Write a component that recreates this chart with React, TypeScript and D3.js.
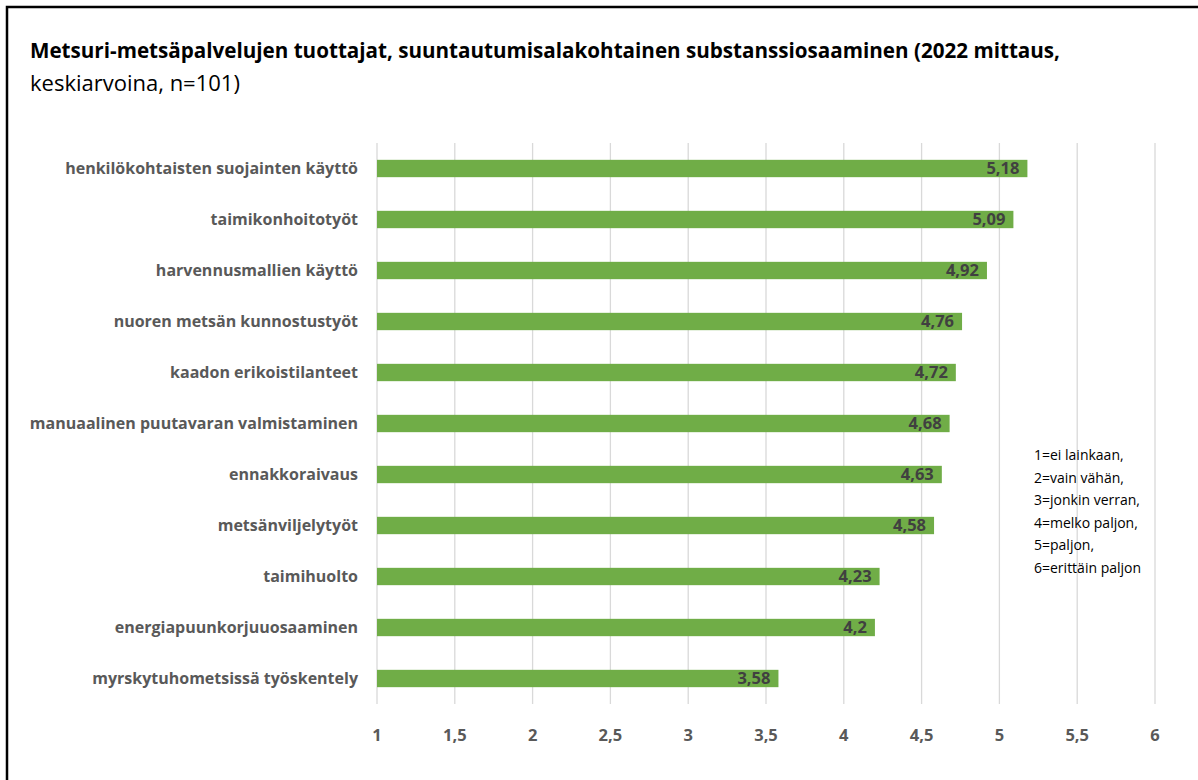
import React from "react";
import * as d3 from "d3";

const categories = [
  "henkilökohtaisten suojainten käyttö",
  "taimikonhoitotyöt",
  "harvennusmallien käyttö",
  "nuoren metsän kunnostustyöt",
  "kaadon erikoistilanteet",
  "manuaalinen puutavaran valmistaminen",
  "ennakkoraivaus",
  "metsänviljelytyöt",
  "taimihuolto",
  "energiapuunkorjuuosaaminen",
  "myrskytuhometsissä työskentely",
];
const values = [5.18, 5.09, 4.92, 4.76, 4.72, 4.68, 4.63, 4.58, 4.23, 4.2, 3.58];
const ticks = [1, 1.5, 2, 2.5, 3, 3.5, 4, 4.5, 5, 5.5, 6];
const legendLines = [
  "1=ei lainkaan,",
  "2=vain vähän,",
  "3=jonkin verran,",
  "4=melko paljon,",
  "5=paljon,",
  "6=erittäin paljon",
];
const titleLine1 =
  "Metsuri-metsäpalvelujen tuottajat, suuntautumisalakohtainen substanssiosaaminen (2022 mittaus,";
const titleLine2 = "keskiarvoina, n=101)";

const FONT = "'Open Sans', sans-serif";
const fmt = (v: number) => String(v).replace(".", ",");

export default function App() {
  const W = 1198;
  const H = 780;
  const x = d3.scaleLinear().domain([1, 6]).range([377, 1155]);
  const y = d3
    .scaleBand<string>()
    .domain(categories)
    .range([143, 704])
    .paddingInner(0.66)
    .paddingOuter(0.33);
  const bw = y.bandwidth();

  return (
    <svg
      width={W}
      height={H}
      style={{ position: "absolute", left: 0, top: 0, background: "#fff" }}
      fontFamily={FONT}
    >
      <rect x={0} y={0} width={W} height={H} fill="#fff" />
      {/* border */}
      <path d={`M7,${H + 5} V7 H${W + 5}`} fill="none" stroke="#000" strokeWidth={2.5} />
      {/* title */}
      <text
        x={30}
        y={58}
        fontSize={21.5}
        fontWeight="bold"
        fill="#000"
        textLength={1030}
        lengthAdjust="spacingAndGlyphs"
      >
        {titleLine1}
      </text>
      <text x={30} y={91} fontSize={22} fill="#000">
        {titleLine2}
      </text>
      {/* gridlines */}
      {ticks.map((t) => (
        <line
          key={"g" + t}
          x1={x(t)}
          x2={x(t)}
          y1={143}
          y2={704}
          stroke="#d9d9d9"
          strokeWidth={1.3}
        />
      ))}
      {/* bars */}
      {categories.map((c, i) => (
        <rect
          key={"b" + c}
          x={x(1)}
          y={y(c)!}
          width={x(values[i]) - x(1)}
          height={bw}
          fill="#70ad47"
        />
      ))}
      {/* value labels */}
      {categories.map((c, i) => (
        <text
          key={"v" + c}
          x={x(values[i]) - 8}
          y={y(c)! + bw / 2}
          dy="0.36em"
          textAnchor="end"
          fontSize={16.5}
          fontWeight="bold"
          fill="#404040"
        >
          {fmt(values[i])}
        </text>
      ))}
      {/* category labels */}
      {categories.map((c) => (
        <text
          key={"c" + c}
          x={358}
          y={y(c)! + bw / 2}
          dy="0.36em"
          textAnchor="end"
          fontSize={16}
          fontWeight="bold"
          fill="#595959"
        >
          {c}
        </text>
      ))}
      {/* tick labels */}
      {ticks.map((t) => (
        <text
          key={"t" + t}
          x={x(t)}
          y={735}
          dy="0.36em"
          textAnchor="middle"
          fontSize={16.5}
          fontWeight="bold"
          fill="#595959"
        >
          {fmt(t)}
        </text>
      ))}
      {/* legend */}
      {legendLines.map((l, i) => (
        <text key={"l" + i} x={1034} y={455 + i * 22.6} dy="0.36em" fontSize={14} fill="#000">
          {l}
        </text>
      ))}
    </svg>
  );
}
